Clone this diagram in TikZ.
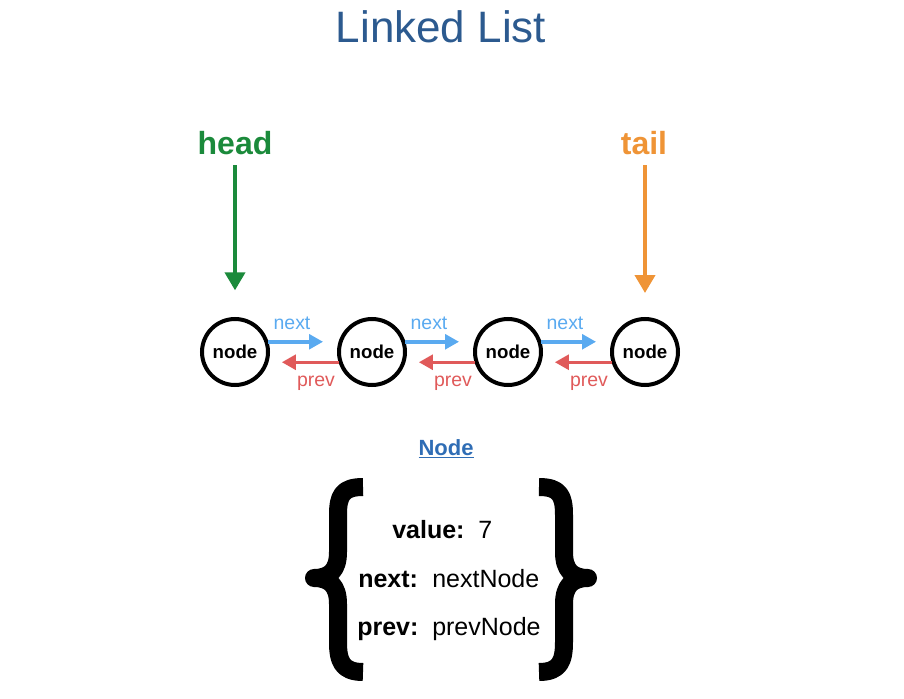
\documentclass[tikz,border=0pt]{standalone}
\usepackage{fontspec}
\setmainfont{Liberation Sans}
\usetikzlibrary{arrows.meta,calc}
\definecolor{titleblue}{HTML}{2C5A8F}
\definecolor{headgreen}{HTML}{1B8A3B}
\definecolor{tailorange}{HTML}{EF9436}
\definecolor{nextblue}{HTML}{5AAAF0}
\definecolor{prevred}{HTML}{E05A5A}
\definecolor{nodeblue}{HTML}{2F6DB5}
\tikzset{
  llnode/.style={circle, draw=black, line width=3pt, inner sep=0pt, minimum size=49.5pt,
    font=\fontsize{14}{16}\selectfont\bfseries},
  ptrarrow/.style={line width=3pt, -{Triangle[length=13.5pt,width=15pt]}},
  linkarrow/.style={line width=2.6pt, -{Triangle[length=10.5pt,width=11pt]}},
  linklabel/.style={font=\fontsize{14.6}{16}\selectfont, anchor=base},
  ptrlabel/.style={font=\fontsize{24}{28}\selectfont\bfseries, anchor=base},
  fieldkey/.style={font=\fontsize{18.75}{22}\selectfont\bfseries, anchor=base west, inner sep=0pt},
  fieldval/.style={font=\fontsize{18.75}{22}\selectfont, anchor=base west, inner sep=0pt},
  bracestroke/.style={line width=13.5pt, line join=round, line cap=butt},
}
\begin{document}
\begin{tikzpicture}[x=0.75pt,y=-0.75pt]
\useasboundingbox (0,0) rectangle (904,699);
% title
\node[font=\fontsize{33}{40}\selectfont, text=titleblue, anchor=base] (title) at (441,43) {Linked List};
% nodes
\node[llnode] (n1) at (235,352) {node};
\node[llnode] (n2) at (372,352) {node};
\node[llnode] (n3) at (508,352) {node};
\node[llnode] (n4) at (645,352) {node};
% next / prev links
\foreach \a/\b in {n1/n2,n2/n3,n3/n4}{
  \draw[linkarrow, nextblue, shorten >=11.6pt] (\a.17) -- (\b.163);
  \draw[linkarrow, prevred, shorten >=10pt] (\b.197) -- (\a.-17);
}
\node[linklabel, text=nextblue] (nx1) at (292,329) {next};
\node[linklabel, text=nextblue] (nx2) at (429,329) {next};
\node[linklabel, text=nextblue] (nx3) at (565,329) {next};
\node[linklabel, text=prevred] (pv1) at (316,386) {prev};
\node[linklabel, text=prevred] (pv2) at (453,386) {prev};
\node[linklabel, text=prevred] (pv3) at (589,386) {prev};
% head / tail
\node[ptrlabel, text=headgreen] (head) at (235,155) {head};
\node[ptrlabel, text=tailorange] (tail) at (644,155) {tail};
\coordinate (hs) at (235,165);
\coordinate (ts) at (645,165);
\draw[ptrarrow, headgreen, shorten >=20pt] (hs) -- (n1);
\draw[ptrarrow, tailorange, shorten >=18pt] (ts) -- (n4);
% Node structure
\node[font=\fontsize{16.5}{20}\selectfont\bfseries, text=nodeblue, anchor=base] (ntitle) at (446,455) {\underline{Node}};
\node[fieldkey] (k1) at (392,538) {value:};
\node[fieldval] (v1) at (478,538) {7};
\node[fieldkey] (k2) at (358,587) {next:};
\node[fieldval] (v2) at (432,587) {nextNode};
\node[fieldkey] (k3) at (357,635) {prev:};
\node[fieldval] (v3) at (432,635) {prevNode};
% braces
\draw[bracestroke] (363,487) .. controls (342,487) and (338,496) .. (338,515) -- (338,552)
  .. controls (338,570) and (330,578) .. (314,578)
  .. controls (330,578) and (338,586) .. (338,604) -- (338,642)
  .. controls (338,661) and (342,672) .. (363,672);
\draw[bracestroke] (539,487) .. controls (560,487) and (564,496) .. (564,515) -- (564,552)
  .. controls (564,570) and (572,578) .. (588,578)
  .. controls (572,578) and (564,586) .. (564,604) -- (564,642)
  .. controls (564,661) and (560,672) .. (539,672);
\end{tikzpicture}
\end{document}
